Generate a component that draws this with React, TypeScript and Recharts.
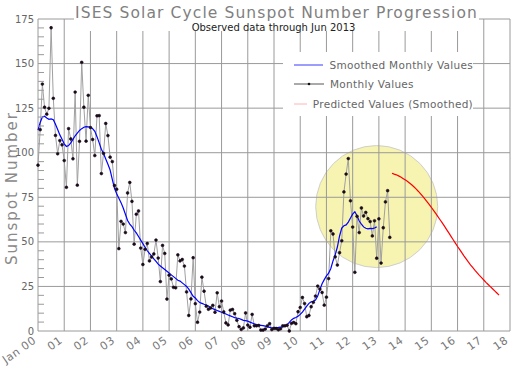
import React from 'react';
import { LineChart, Line, XAxis, YAxis, CartesianGrid, ReferenceDot, Legend } from 'recharts';

// monthly observed values, Jan..Dec
const monthly2000 = [93.0, 112.9, 138.5, 125.5, 121.6, 124.9, 170.1, 130.5, 109.7, 99.4, 106.8, 104.4];
const monthly2001 = [95.6, 80.6, 113.5, 107.7, 96.6, 134.0, 81.8, 106.4, 150.7, 125.5, 106.5, 132.2];
const monthly2002 = [114.1, 107.4, 98.4, 120.7, 120.8, 88.3, 99.6, 116.4, 109.6, 97.5, 95.0, 81.6];
const monthly2003 = [79.5, 46.2, 61.5, 60.0, 55.2, 77.4, 83.3, 72.7, 48.7, 65.5, 67.3, 46.5];
const monthly2004 = [37.3, 45.8, 49.1, 39.3, 41.5, 43.2, 51.0, 40.9, 27.7, 48.0, 43.5, 17.9];
const monthly2005 = [31.3, 29.2, 24.5, 24.2, 42.7, 39.3, 40.1, 36.4, 21.9, 8.7, 18.0, 41.1];
const monthly2006 = [15.3, 4.9, 10.6, 30.2, 22.3, 13.9, 12.2, 12.9, 14.4, 10.5, 21.4, 13.6];
const monthly2007 = [16.8, 10.7, 4.5, 3.4, 11.7, 12.1, 9.7, 6.0, 2.4, 0.9, 1.7, 10.1];
const monthly2008 = [3.3, 2.1, 9.3, 2.9, 2.9, 3.1, 0.5, 0.5, 1.1, 2.9, 4.1, 0.8];
const monthly2009 = [1.5, 1.4, 0.7, 1.2, 2.9, 2.9, 3.2, 0.0, 4.3, 4.8, 4.1, 10.8];
const monthly2010 = [13.2, 18.8, 15.4, 8.0, 8.7, 13.6, 16.1, 19.6, 25.2, 23.5, 21.6, 14.5];
const monthly2011 = [19.0, 29.4, 56.2, 54.4, 41.6, 37.0, 43.9, 50.6, 78.0, 88.0, 96.7, 73.0];
const monthly2012 = [58.3, 32.9, 64.3, 55.2, 69.0, 64.5, 66.5, 63.0, 61.4, 53.3, 61.8, 40.8];
const monthly2013 = [62.9, 38.1, 57.9, 72.4, 78.7, 52.5];

// smoothed monthly values
const smooth2000 = [112.7, 117.0, 120.0, 120.5, 119.5, 118.7, 119.0, 118.5, 116.0, 113.0, 110.0, 107.5];
const smooth2001 = [105.0, 103.5, 104.0, 105.5, 107.5, 109.5, 111.0, 112.5, 113.5, 114.3, 114.6, 114.5];
const smooth2002 = [114.4, 113.5, 112.0, 109.0, 105.5, 102.0, 99.6, 96.5, 93.5, 90.3, 85.0, 80.0];
const smooth2003 = [77.0, 74.5, 72.0, 69.0, 65.5, 62.0, 60.0, 58.5, 56.5, 55.0, 53.0, 51.0];
const smooth2004 = [49.0, 47.0, 45.0, 43.5, 42.0, 40.5, 39.0, 37.5, 36.5, 35.5, 34.5, 33.5];
const smooth2005 = [32.5, 31.5, 30.5, 29.5, 28.5, 28.0, 27.0, 26.0, 25.0, 23.5, 21.5, 19.5];
const smooth2006 = [18.5, 17.0, 16.0, 15.5, 15.0, 14.6, 14.0, 13.0, 12.5, 12.0, 11.5, 11.0];
const smooth2007 = [10.5, 10.0, 9.5, 9.0, 8.5, 8.0, 7.5, 7.2, 7.0, 6.5, 6.0, 5.8];
const smooth2008 = [5.5, 5.0, 4.5, 4.0, 3.6, 3.4, 3.2, 3.0, 2.7, 2.3, 2.0, 1.7];
const smooth2009 = [1.8, 1.9, 2.0, 2.2, 2.3, 2.7, 3.6, 4.8, 6.2, 7.1, 7.6, 8.3];
const smooth2010 = [9.3, 10.6, 12.3, 14.0, 15.5, 16.4, 16.7, 17.4, 19.6, 23.2, 26.5, 28.8];
const smooth2011 = [30.9, 32.4, 35.1, 39.3, 42.7, 47.1, 53.3, 57.7, 59.0, 59.5, 61.1, 63.4];
const smooth2012 = [65.5, 66.9, 64.6, 61.7, 60.0, 58.4, 57.6, 57.3, 57.6, 57.4, 57.8, 58.4];

// predicted (smoothed), from Jul 2013
const predicted2013 = [88.5, 88.0, 87.6, 87.0, 86.4, 85.6];
const predicted2014 = [84.8, 84.0, 83.0, 82.0, 80.9, 79.7, 78.4, 77.0, 75.6, 74.1, 72.6, 71.0];
const predicted2015 = [69.4, 67.7, 66.0, 64.2, 62.4, 60.6, 58.8, 56.9, 55.0, 53.1, 51.2, 49.3];
const predicted2016 = [47.4, 45.6, 43.8, 42.0, 40.3, 38.6, 37.0, 35.5, 34.0, 32.6, 31.2, 29.9];
const predicted2017 = [28.6, 27.3, 26.1, 24.9, 23.7, 22.5, 21.3, 20.1];
const predictedStart = 162; // months after Jan 2000

const yearLabels = ['Jan 00', '01', '02', '03', '04', '05', '06', '07', '08', '09', '10', '11', '12', '13', '14', '15', '16', '17', '18'];
const yMajor = [0, 25, 50, 75, 100, 125, 150, 175];
const yMinor = [0, 5, 10, 15, 20, 25, 30, 35, 40, 45, 50, 55, 60, 65, 70, 75, 80, 85, 90, 95, 100, 105, 110, 115, 120, 125, 130, 135, 140, 145, 150, 155, 160, 165, 170, 175];

const highlight = { t: 155, value: 69.8 };

const legendItems = [
  { label: 'Smoothed Monthly Values', color: '#3a3aff', dot: false },
  { label: 'Monthly Values', color: '#555', dot: true },
  { label: 'Predicted Values (Smoothed)', color: '#ffb4b4', dot: false },
];

const monthly = [
  ...monthly2000, ...monthly2001, ...monthly2002, ...monthly2003, ...monthly2004, ...monthly2005, ...monthly2006,
  ...monthly2007, ...monthly2008, ...monthly2009, ...monthly2010, ...monthly2011, ...monthly2012, ...monthly2013,
];
const smoothed = [
  ...smooth2000, ...smooth2001, ...smooth2002, ...smooth2003, ...smooth2004, ...smooth2005, ...smooth2006,
  ...smooth2007, ...smooth2008, ...smooth2009, ...smooth2010, ...smooth2011, ...smooth2012,
];
const predicted = [...predicted2013, ...predicted2014, ...predicted2015, ...predicted2016, ...predicted2017];

const lastMonth = (yearLabels.length - 1) * 12;
const yearTicks = yearLabels.map((_, i) => i * 12);

const rows = Array.from({ length: lastMonth + 1 }, (_, t) => ({
  t,
  monthly: monthly[t],
  smoothed: smoothed[t],
  predicted: t >= predictedStart ? predicted[t - predictedStart] : undefined,
}));

const grey = '#9a9a9a';
const font = '"DejaVu Sans", sans-serif';

const LeftTick = (props: any) => {
  const { x, y, payload } = props;
  const major = payload.value % 25 === 0;
  return (
    <g>
      {!major && <line x1={x} x2={x + 6} y1={y} y2={y} stroke={grey} />}
      {major && (
        <text x={x - 4} y={y} dy={3.5} textAnchor="end" fontSize={10} fill="#666" fontFamily={font}>
          {payload.value}
        </text>
      )}
    </g>
  );
};

const RightTick = (props: any) => {
  const { x, y, payload } = props;
  if (payload.value % 25 === 0) return <g />;
  return <line x1={x - 6} x2={x} y1={y} y2={y} stroke={grey} />;
};

const YearTick = (props: any) => {
  const { x, y, index } = props;
  return (
    <text
      transform={`translate(${x - 1},${y + 11}) rotate(-35)`}
      textAnchor="end"
      fontSize={11}
      fill="#777"
      fontFamily={font}
      letterSpacing={0.6}
    >
      {yearLabels[index]}
    </text>
  );
};

const LegendBox = () => (
  <div
    style={{
      background: '#fff',
      padding: '3px 0 2px 11px',
      fontFamily: font,
      fontSize: 10.5,
      letterSpacing: 0.3,
      color: '#666',
      whiteSpace: 'nowrap',
    }}
  >
    {legendItems.map((item) => (
      <div key={item.label} style={{ display: 'flex', alignItems: 'center', height: 19.5 }}>
        <svg width={30} height={6} style={{ marginRight: 6 }}>
          <line x1={0} x2={30} y1={3} y2={3} stroke={item.color} strokeWidth={1} />
          {item.dot && <circle cx={15} cy={3} r={1.3} fill="#111" />}
        </svg>
        <span>{item.label}</span>
      </div>
    ))}
  </div>
);

export default function App() {
  return (
    <div style={{ position: 'absolute', left: 0, top: 0, width: 512, height: 367, background: '#fff' }}>
      <LineChart width={512} height={367} data={rows} margin={{ top: 19, right: 0, bottom: 6, left: 0 }}>
        <CartesianGrid
          stroke={grey}
          strokeDasharray=""
          horizontalValues={yMajor}
          verticalValues={yearTicks}
        />
        <ReferenceDot
          x={highlight.t}
          y={highlight.value}
          r={61}
          fill="#f7f3b0"
          stroke="#cfcfcf"
          strokeWidth={1}
          zIndex={-200}
        />
        <XAxis
          dataKey="t"
          type="number"
          domain={[0, lastMonth]}
          ticks={yearTicks}
          interval={0}
          height={30}
          tickSize={0}
          tickMargin={0}
          axisLine={false}
          tick={<YearTick />}
        />
        <YAxis
          domain={[0, 175]}
          ticks={yMinor}
          interval={0}
          width={38}
          tickSize={0}
          tickMargin={0}
          axisLine={false}
          tick={<LeftTick />}
        />
        <YAxis
          yAxisId="right"
          orientation="right"
          domain={[0, 175]}
          ticks={yMinor}
          interval={0}
          width={2}
          tickSize={0}
          tickMargin={0}
          axisLine={false}
          tick={<RightTick />}
        />
        <Line
          dataKey="monthly"
          stroke="#a0a0a0"
          strokeWidth={1}
          dot={{ r: 1.4, fill: '#1a0a1a', stroke: '#1a0a1a', strokeWidth: 0.6 }}
          isAnimationActive={false}
        />
        <Line dataKey="smoothed" stroke="#0000ff" strokeWidth={1.2} dot={false} isAnimationActive={false} />
        <Line dataKey="predicted" stroke="#ff0000" strokeWidth={1.2} dot={false} isAnimationActive={false} />
        <Legend
          layout="vertical"
          align="center"
          verticalAlign="middle"
          content={() => <LegendBox />}
          wrapperStyle={{ left: 283, top: 52, width: 190 }}
        />
      </LineChart>
      <div
        style={{
          position: 'absolute',
          left: 74,
          top: 0,
          width: 405,
          height: 31,
          background: '#fff',
          textAlign: 'center',
          whiteSpace: 'nowrap',
          fontFamily: font,
        }}
      >
        <div style={{ fontSize: 15.5, letterSpacing: 1.1, color: '#808080', lineHeight: '18px', paddingTop: 4 }}>
          ISES Solar Cycle Sunspot Number Progression
        </div>
        <div style={{ fontSize: 10, color: '#222', lineHeight: '12px', marginLeft: -6 }}>
          Observed data through Jun 2013
        </div>
      </div>
      <div
        style={{
          position: 'absolute',
          left: 12,
          top: 188,
          transform: 'translate(-50%, -50%) rotate(-90deg)',
          whiteSpace: 'nowrap',
          fontFamily: font,
          fontSize: 15,
          letterSpacing: 2,
          color: '#8a8a8a',
        }}
      >
        Sunspot Number
      </div>
    </div>
  );
}
